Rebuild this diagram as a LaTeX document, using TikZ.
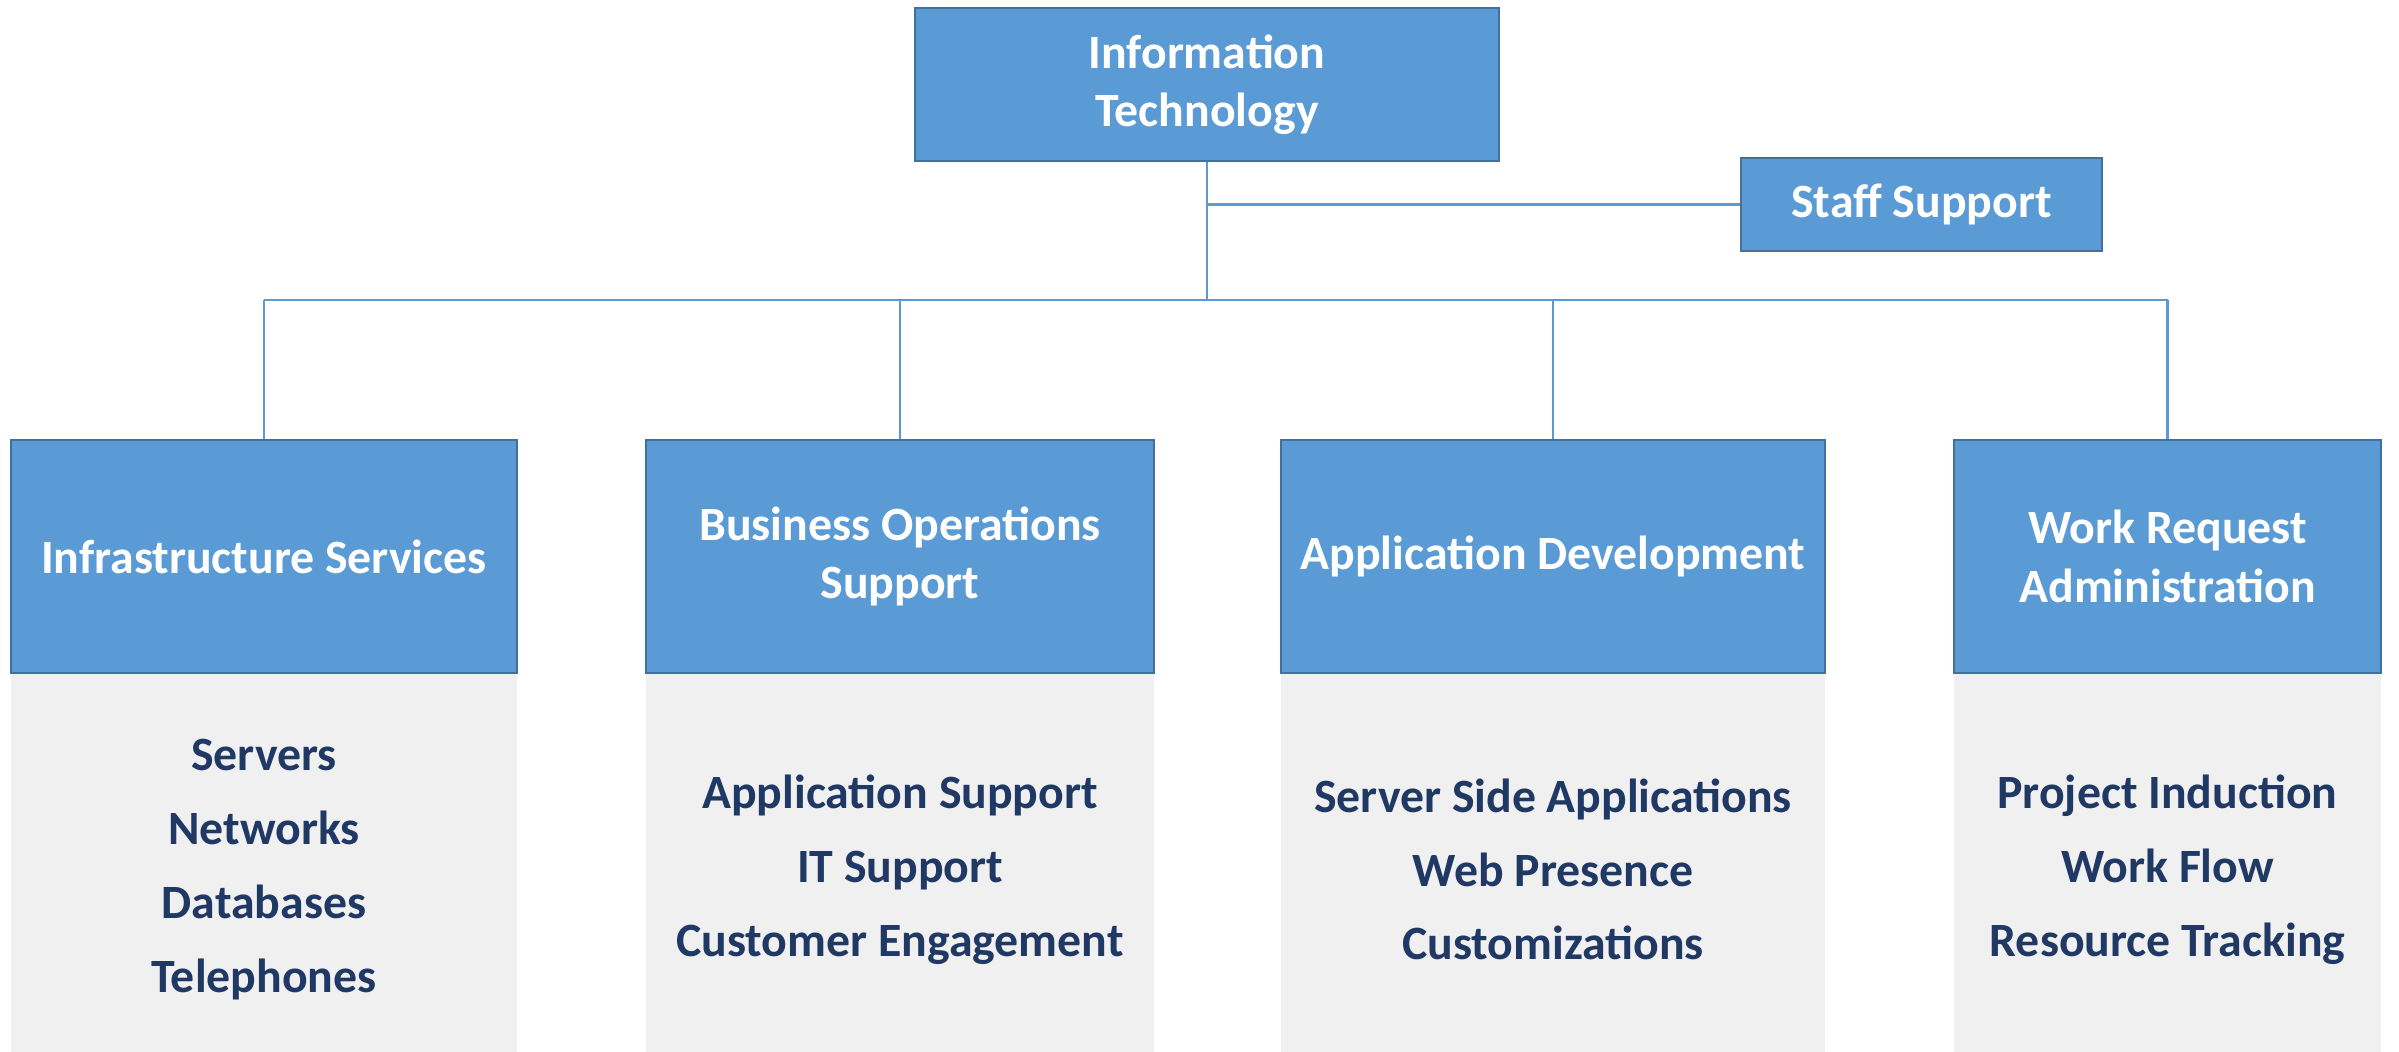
\documentclass[tikz,border=0pt]{standalone}
\usepackage{fontspec}
\setmainfont{Carlito}
\usepackage{tikz}

\definecolor{boxblue}{HTML}{5B9BD5}
\definecolor{boxedge}{HTML}{41719C}
\definecolor{panelgray}{HTML}{F0F0F0}
\definecolor{itemblue}{HTML}{203864}

\begin{document}
\begin{tikzpicture}[
        unit/.style = {draw=boxedge, line width=0.8pt, fill=boxblue, text=white, align=center,
                       inner sep=0pt, font=\bfseries\fontsize{13.6}{16.6}\selectfont},
        panel/.style = {fill=panelgray, text=itemblue, align=center, inner sep=0pt,
                        minimum height = 3.93cm, font=\bfseries\fontsize{13.6}{21}\selectfont},
        link/.style = {boxblue, line width=0.6pt}
    ]
            \useasboundingbox (0, 0) rectangle (23.99, 10.52);

            % grey lists under the units (they run past the bottom edge)
            \node[panel, minimum width = 5.06cm] (L1) at (2.64, 1.825) {Servers\\Networks\\Databases\\Telephones};
            \node[panel, minimum width = 5.08cm] (L2) at (9.00, 1.825) {Application Support\\IT Support\\Customer Engagement};
            \node[panel, minimum width = 5.44cm] (L3) at (15.53, 1.825) {Server Side Applications\\Web Presence\\Customizations};
            \node[panel, minimum width = 4.27cm] (L4) at (21.675, 1.825) {Project Induction\\Work Flow\\Resource Tracking};

            % boxes
            \node[unit, minimum width = 5.84cm, minimum height = 1.53cm] (T) at (12.07, 9.675) {Information\\Technology};
            \node[unit, minimum width = 3.61cm, minimum height = 0.93cm] (S) at (19.215, 8.475) {Staff Support};

            \node[unit, minimum width = 5.06cm, minimum height = 2.33cm] (C1) at (2.64, 4.955) {Infrastructure Services};
            \node[unit, minimum width = 5.08cm, minimum height = 2.33cm] (C2) at (9.00, 4.955) {Business Operations\\Support};
            \node[unit, minimum width = 5.44cm, minimum height = 2.33cm] (C3) at (15.53, 4.955) {Application Development};
            \node[unit, minimum width = 4.27cm, minimum height = 2.33cm] (C4) at (21.675, 4.955) {Work Request\\Administration};

            \coordinate (J) at (12.07, 7.52);

            \draw[link] (T.south) to (J);
            \draw[link] (T.south |- S.west) to (S.west);
            \draw[link] (C1.north |- J) to (C4.north |- J);
            \foreach \i in {1,...,4}
                \draw[link] (C\i.north |- J) to (C\i.north);

\end{tikzpicture}
\end{document}
